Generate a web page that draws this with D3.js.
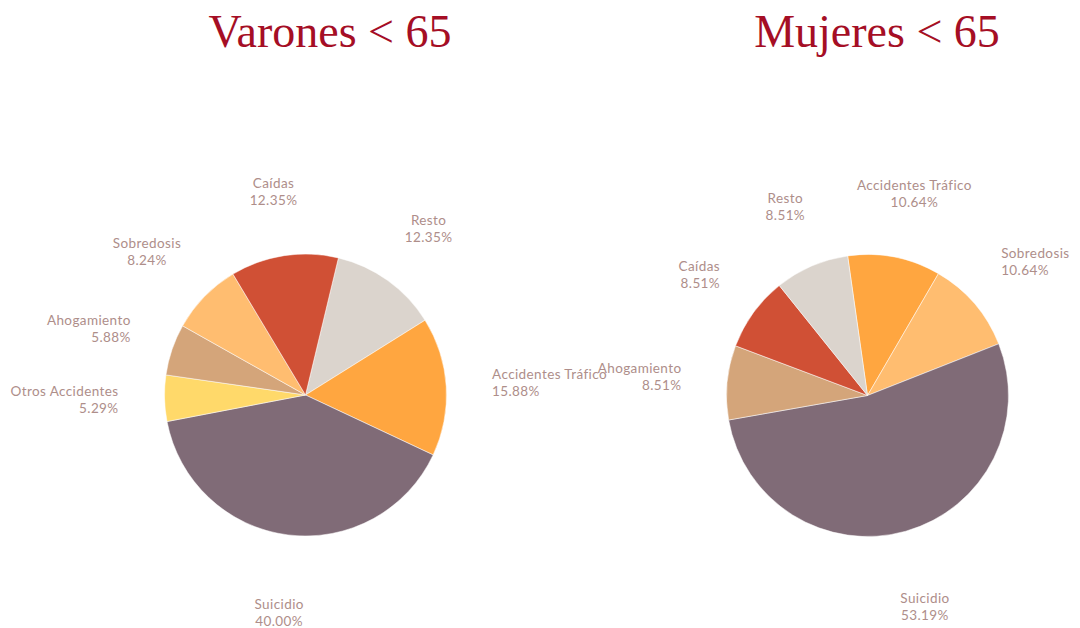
<!DOCTYPE html>
<html>
<head>
<meta charset="utf-8">
<script src="https://cdn.jsdelivr.net/npm/d3@7"></script>
<style>
  body { margin: 0; background: #fff; }
</style>
</head>
<body>
<div id="chart"></div>
<script>
// Varones < 65 (clockwise order as drawn)
const varonesCategories = ["Resto", "Accidentes Tráfico", "Suicidio", "Otros Accidentes", "Ahogamiento", "Sobredosis", "Caídas"];
const varonesValues = [12.35, 15.88, 40.00, 5.29, 5.88, 8.24, 12.35];

// Mujeres < 65
const mujeresCategories = ["Accidentes Tráfico", "Sobredosis", "Suicidio", "Ahogamiento", "Caídas", "Resto"];
const mujeresValues = [10.64, 10.64, 53.19, 8.51, 8.51, 8.51];

const titles = ["Varones < 65", "Mujeres < 65"];

const width = 1080;
const height = 628;
const radius = 141;

const color = d3.scaleOrdinal()
  .domain(["Suicidio", "Accidentes Tráfico", "Resto", "Caídas", "Sobredosis", "Ahogamiento", "Otros Accidentes"])
  .range(["#806b77", "#ffa640", "#dbd4cd", "#d05035", "#ffbd70", "#d4a57a", "#ffd96a"]);

const svg = d3.select("#chart")
  .append("svg")
  .attr("width", width)
  .attr("height", height);

const charts = [
  { title: titles[0], categories: varonesCategories, values: varonesValues, cx: 305.5, cy: 395, titleX: 330, start: 13.5 },
  { title: titles[1], categories: mujeresCategories, values: mujeresValues, cx: 867.5, cy: 395.5, titleX: 877, start: -8.1 }
];

const arc = d3.arc().innerRadius(0).outerRadius(radius);

charts.forEach(c => {
  const rows = c.categories.map((name, i) => ({ name, value: c.values[i] }));
  const total = d3.sum(c.values);
  const a0 = c.start * Math.PI / 180;

  const pie = d3.pie()
    .sort(null)
    .value(d => d.value)
    .startAngle(a0)
    .endAngle(a0 + 2 * Math.PI);

  svg.append("text")
    .attr("x", c.titleX)
    .attr("y", 47)
    .attr("text-anchor", "middle")
    .style("font-family", "'Liberation Serif', serif")
    .style("font-size", "46px")
    .style("fill", "#a50e25")
    .text(c.title);

  const g = svg.append("g")
    .attr("transform", `translate(${c.cx}, ${c.cy})`);

  const arcs = pie(rows);

  g.selectAll("path")
    .data(arcs)
    .enter()
    .append("path")
    .attr("d", arc)
    .attr("fill", d => color(d.data.name))
    .attr("stroke", "#fff")
    .attr("stroke-width", 0.5);

  // labels outside, box pushed away from the pie by half its size
  arcs.forEach(d => {
    const mid = (d.startAngle + d.endAngle) / 2;
    const s = Math.sin(mid), k = -Math.cos(mid);
    const t = g.append("text")
      .style("font-family", "Lato, sans-serif")
      .style("font-size", "13.5px")
      .style("letter-spacing", "0.4px")
      .style("fill", "#ae8e8a");
    const l1 = t.append("tspan").text(d.data.name);
    const l2 = t.append("tspan").text(d3.format(".2f")(d.data.value / total * 100) + "%");
    const w = Math.max(l1.node().getComputedTextLength(), l2.node().getComputedTextLength());
    const h = 34;
    const rx = 187;
    const ry = k > 0 ? 203 : 188;
    const bx = s * (rx + w / 2);
    const by = k * (ry + h / 2);
    let anchor = "middle", x = bx;
    if (s > 0.74) { anchor = "start"; x = bx - w / 2; }
    else if (s < -0.74) { anchor = "end"; x = bx + w / 2; }
    t.attr("text-anchor", anchor);
    l1.attr("x", x).attr("y", by - 4);
    l2.attr("x", x).attr("y", by + 13);
  });
});
</script>
</body>
</html>
